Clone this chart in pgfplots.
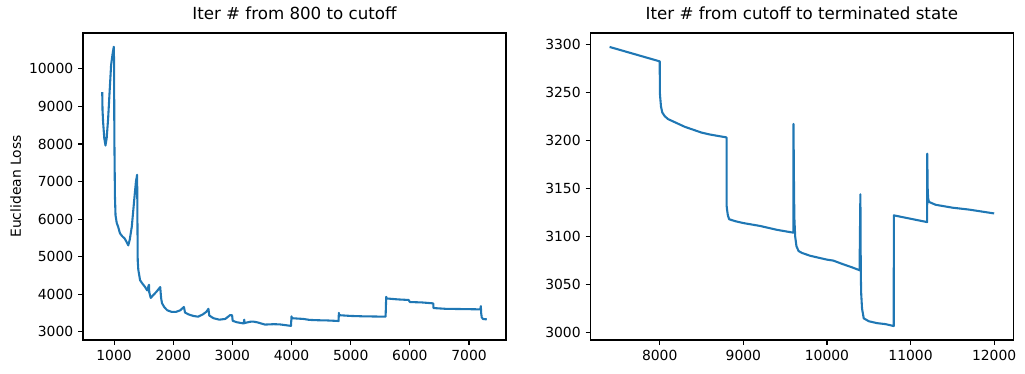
\documentclass[border=0pt]{standalone}
\usepackage{fontspec}
\setmainfont{DejaVu Sans}
\usepackage{pgfplots}
\pgfplotsset{compat=1.18}
\definecolor{mplblue}{HTML}{1F77B4}
\pgfplotsset{
  mplline/.style={mplblue, line width=1.5pt, line join=round, mark=none},
  mplstyle/.style={
    scale only axis,
    width=304.56pt, height=221.04pt,
    axis line style={line width=0.8pt, black},
    tick align=outside,
    tick pos=left,
    major tick length=3.5pt,
    every tick/.style={black, line width=0.8pt},
    tick label style={font=\fontsize{10}{12}\selectfont},
    label style={font=\fontsize{10}{12}\selectfont},
    title style={font=\fontsize{12}{14}\selectfont},
    /pgf/number format/assume math mode=true,
    /pgf/number format/set thousands separator={},
    scaled ticks=false,
  }
}
\begin{document}
\begin{tikzpicture}
\useasboundingbox (-59.76pt,-24.48pt) rectangle (678.24pt,244.8pt);
\begin{axis}[mplstyle,
  at={(0pt,0pt)}, anchor=south west,
  xmin=475, xmax=7625, ymin=2779, ymax=10957,
  xtick={1000,2000,3000,4000,5000,6000,7000},
  ytick={3000,4000,5000,6000,7000,8000,9000,10000},
  title={Iter \# from 800 to cutoff},
  ylabel={Euclidean Loss},
  ylabel style={at={(axis description cs:-0.159,0.5)}, anchor=center},
]
\addplot[mplline] coordinates {
(800,9380) (805,8900) (815,8580) (835,8150) (855,7960) (875,8150) (900,8680) (925,9400) (950,10100) (975,10400) (995,10590)
(1000,10200) (1005,8200) (1015,6600) (1025,6100) (1045,5900) (1070,5790) (1100,5620) (1140,5540) (1180,5480) (1215,5380) (1240,5300)
(1265,5450) (1300,5800) (1340,6500) (1370,7000) (1390,7180) (1395,6000) (1400,4900) (1410,4650) (1440,4370) (1480,4280) (1520,4200)
(1560,4100) (1590,4250) (1595,4050) (1620,3900) (1660,3970) (1720,4070) (1780,4190) (1795,3900) (1810,3760) (1850,3650) (1900,3570)
(1970,3530) (2050,3530) (2120,3570) (2180,3660) (2200,3510) (2260,3460) (2340,3420) (2420,3400) (2500,3460) (2560,3530) (2595,3610)
(2610,3430) (2680,3360) (2780,3320) (2880,3340) (2960,3440) (2995,3440) (3005,3290) (3080,3250) (3190,3220) (3200,3320) (3205,3230)
(3300,3265) (3350,3270) (3420,3250) (3550,3190) (3700,3200) (3800,3195) (3990,3155) (4000,3410) (4005,3360) (4100,3350) (4200,3340)
(4300,3315) (4450,3305) (4600,3300) (4795,3285) (4800,3500) (4805,3440) (5000,3420) (5200,3410) (5400,3405) (5590,3400) (5600,3930)
(5610,3885) (5800,3860) (5980,3845) (6000,3790) (6200,3780) (6395,3755) (6400,3630) (6600,3610) (6800,3605) (7000,3600) (7190,3595)
(7200,3680) (7205,3500) (7215,3380) (7240,3335) (7300,3330)
};
\end{axis}
\begin{axis}[mplstyle,
  at={(365.3pt,0pt)}, anchor=south west,
  xmin=7170, xmax=12230, ymin=2992.5, ymax=3311.5,
  xtick={8000,9000,10000,11000,12000},
  ytick={3000,3050,3100,3150,3200,3250,3300},
  title={Iter \# from cutoff to terminated state},
]
\addplot[mplline] coordinates {
(7400,3297) (8000,3282) (8001,3250) (8005,3245) (8015,3235) (8030,3229) (8060,3225) (8100,3222) (8200,3218) (8300,3214) (8400,3211)
(8500,3208) (8600,3206) (8799,3203) (8800,3132) (8805,3128) (8815,3122) (8830,3118) (8900,3116) (9000,3114) (9200,3111) (9400,3107)
(9599,3104) (9600,3217) (9605,3160) (9610,3120) (9620,3100) (9635,3090) (9660,3085) (9700,3083) (9800,3080) (9900,3078) (10000,3076)
(10076,3075) (10200,3071) (10300,3068) (10390,3065) (10400,3144) (10405,3060) (10410,3040) (10420,3025) (10440,3015) (10500,3012)
(10600,3010) (10700,3009) (10799,3007) (10800,3122) (11199,3115) (11200,3186) (11205,3150) (11210,3140) (11220,3136) (11300,3133)
(11500,3130) (11700,3128) (12000,3124)
};
\end{axis}
\end{tikzpicture}
\end{document}
